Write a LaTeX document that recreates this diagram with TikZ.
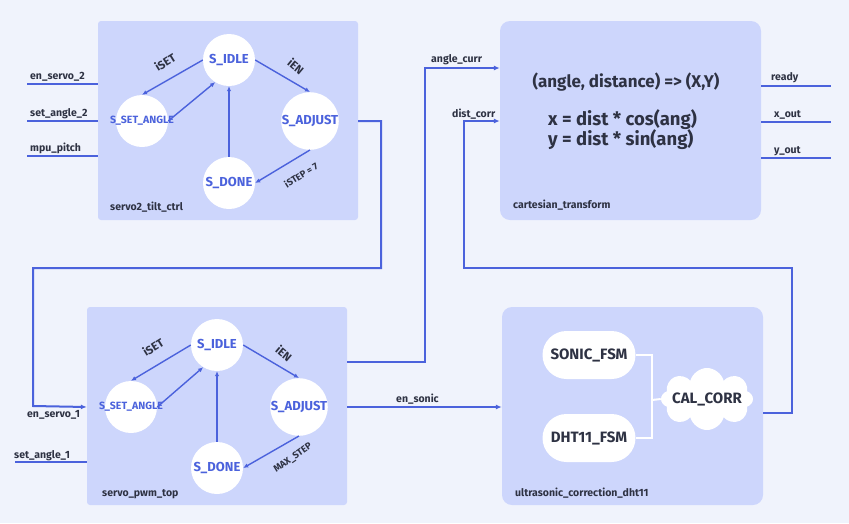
\documentclass[tikz,border=0pt]{standalone}
\usepackage{fontspec}
\setmainfont{Fira Sans}
\usetikzlibrary{arrows.meta,shapes.symbols}

\definecolor{bgcol}{HTML}{F0F3FC}
\definecolor{boxcol}{HTML}{CDD6FC}
\definecolor{wirecol}{HTML}{4B62DC}
\definecolor{txtcol}{HTML}{2E3243}

\tikzset{
  module/.style={fill=boxcol, rounded corners=#1, inner sep=0pt},
  module/.default=3pt,
  state/.style={circle, fill=white, minimum size=52pt, inner sep=0pt, text=wirecol,
    font=\bfseries\fontsize{13}{13}\selectfont},
  smallstate/.style={state, font=\bfseries\fontsize{10.5}{11}\selectfont},
  trans/.style={draw=wirecol, line width=1.4pt, -{Latex[length=5pt,width=4.5pt]}},
  wire/.style={draw=wirecol, line width=2pt},
  wirearrow/.style={wire, -{Latex[length=6pt,width=5pt]}},
  sig/.style={text=txtcol, font=\bfseries\fontsize{10.5}{11}\selectfont, inner sep=0pt, anchor=base west},
  modname/.style={sig},
  translabel/.style={text=txtcol, font=\bfseries\fontsize{11.5}{12}\selectfont, inner sep=0pt},
  condlabel/.style={text=txtcol, font=\bfseries\fontsize{9.5}{10}\selectfont, inner sep=0pt},
  pill/.style={fill=white, rounded corners=24pt, minimum width=93pt, minimum height=48pt,
    text=txtcol, font=\bfseries\fontsize{15}{15}\selectfont},
}

\begin{document}
\begin{tikzpicture}[x=1pt,y=-1pt]
  \fill[bgcol] (0,0) rectangle (849,523);
  \useasboundingbox (0,0) rectangle (849,523);

  % modules
  \node[module, minimum width=260pt, minimum height=199pt] (tilt) at (228,120.5) {};
  \node[module=10pt, minimum width=261pt, minimum height=199pt] (cart) at (630.5,120.5) {};
  \node[module, minimum width=260pt, minimum height=198pt] (pwm) at (217,406) {};
  \node[module=10pt, minimum width=261pt, minimum height=198pt] (ultra) at (632.5,406) {};

  \node[modname] at (110,210) {servo2\_tilt\_ctrl};
  \node[modname] at (513,208) {cartesian\_transform};
  \node[modname] at (102,496) {servo\_pwm\_top};
  \node[modname] at (515,496) {ultrasonic\_correction\_dht11};

  % servo2_tilt_ctrl states
  \node[state] (idle2) at (229,60) {S\_IDLE};
  \node[smallstate] (set2) at (142,121) {\makebox[0pt]{S\_SET\_ANGLE}};
  \node[state] (adj2) at (310,121) {S\_ADJUST};
  \node[state] (done2) at (229,183) {S\_DONE};

  \draw[trans] (idle2.west) to (set2.north); \draw[trans] (set2.east) to (idle2.238);
  \draw[trans] (idle2.east) to (adj2.north); \draw[trans] (adj2.south) to (done2.east);
  \draw[trans] (done2.north) to (idle2.south);

  \node[translabel, rotate=32] at (165,62) {iSET};
  \node[translabel, rotate=-40] at (296,66) {iEN};
  \node[condlabel, rotate=32] at (301,175) {iSTEP = 7};

  % servo_pwm_top states
  \node[state] (idle1) at (217,345) {S\_IDLE};
  \node[smallstate] (set1) at (131,407) {\makebox[0pt]{S\_SET\_ANGLE}};
  \node[state] (adj1) at (299,407) {S\_ADJUST};
  \node[state] (done1) at (217,468) {S\_DONE};

  \draw[trans] (idle1.west) to (set1.north); \draw[trans] (set1.east) to (idle1.238);
  \draw[trans] (idle1.east) to (adj1.north); \draw[trans] (adj1.south) to (done1.east);
  \draw[trans] (done1.north) to (idle1.south);

  \node[translabel, rotate=32] at (153,347) {iSET};
  \node[translabel, rotate=-40] at (284,353) {iEN};
  \node[condlabel, rotate=35] at (293,458) {MAX\_STEP};

  % cartesian_transform text
  \node[text=txtcol, font=\bfseries\fontsize{17}{17}\selectfont, inner sep=0pt] (eqhead) at (626,82) {(angle, distance) => (X,Y)};
  \node[text=txtcol, font=\bfseries\fontsize{18.5}{20}\selectfont, inner sep=0pt, anchor=west, align=left] (eqbody) at (548,130)
    {x = dist * cos(ang)\\y = dist * sin(ang)};

  % ultrasonic_correction_dht11 parts
  \node[pill] (sonic) at (589,355) {SONIC\_FSM};
  \node[pill] (dht) at (589,438) {DHT11\_FSM};
  \node[cloud, cloud puffs=8, aspect=1.45, fill=white, minimum width=92pt, minimum height=62pt, inner sep=0pt,
    text=txtcol, font=\bfseries\fontsize{15}{15}\selectfont] (cal) at (707,399) {\makebox[0pt]{CAL\_CORR}};
  \coordinate (join) at (652,400);
  \draw[white, line width=2pt] (sonic.east) -| (join) |- (dht.east);
  \draw[white, line width=2pt] (join) -- (cal.west);

  % servo2_tilt_ctrl inputs
  \coordinate (in_en2) at (27,84);
  \coordinate (in_set2) at (27,121);
  \coordinate (in_pitch) at (27,156);
  \draw[wire] (in_en2) -- (in_en2 -| tilt.west);
  \draw[wire] (in_set2) -- (in_set2 -| tilt.west);
  \draw[wire] (in_pitch) -- (in_pitch -| tilt.west);
  \node[sig] at (30,79.5) {en\_servo\_2};
  \node[sig] at (30,116.5) {set\_angle\_2};
  \node[sig] at (30,151.5) {mpu\_pitch};

  % servo_pwm_top inputs
  \coordinate (in_set1) at (15,462);
  \draw[wire] (in_set1) -- (in_set1 -| pwm.west);
  \node[sig] at (14,458) {set\_angle\_1};
  \draw[wirearrow] (tilt.east |- adj2) -- (381,121) -- (381,268) -- (33,268) -- (33,406) -- (pwm.west |- set1);
  \node[sig] at (27,417) {en\_servo\_1};

  % servo_pwm_top outputs
  \draw[wirearrow] (pwm.east |- 0,362) -- (425,362) -- (425,68) -- (cart.west |- 0,68);
  \node[sig] at (431,62) {angle\_curr};
  \draw[wirearrow] (pwm.east |- adj1) -- (ultra.west |- adj1);
  \node[sig] at (396,402.5) {en\_sonic};

  % ultrasonic_correction_dht11 output
  \draw[wirearrow] (ultra.east |- 0,413) -- (792,413) -- (792,268) -- (464,268) -- (464,121) -- (cart.west |- 0,121);
  \node[sig] at (452,117) {dist\_corr};

  % cartesian_transform outputs
  \coordinate (out_ready) at (831,86);
  \coordinate (out_x) at (831,122);
  \coordinate (out_y) at (831,158);
  \draw[wire] (out_ready -| cart.east) -- (out_ready);
  \draw[wire] (out_x -| cart.east) -- (out_x);
  \draw[wire] (out_y -| cart.east) -- (out_y);
  \node[sig] at (771,80) {ready};
  \node[sig] at (774,117) {x\_out};
  \node[sig] at (774,153) {y\_out};
\end{tikzpicture}
\end{document}
